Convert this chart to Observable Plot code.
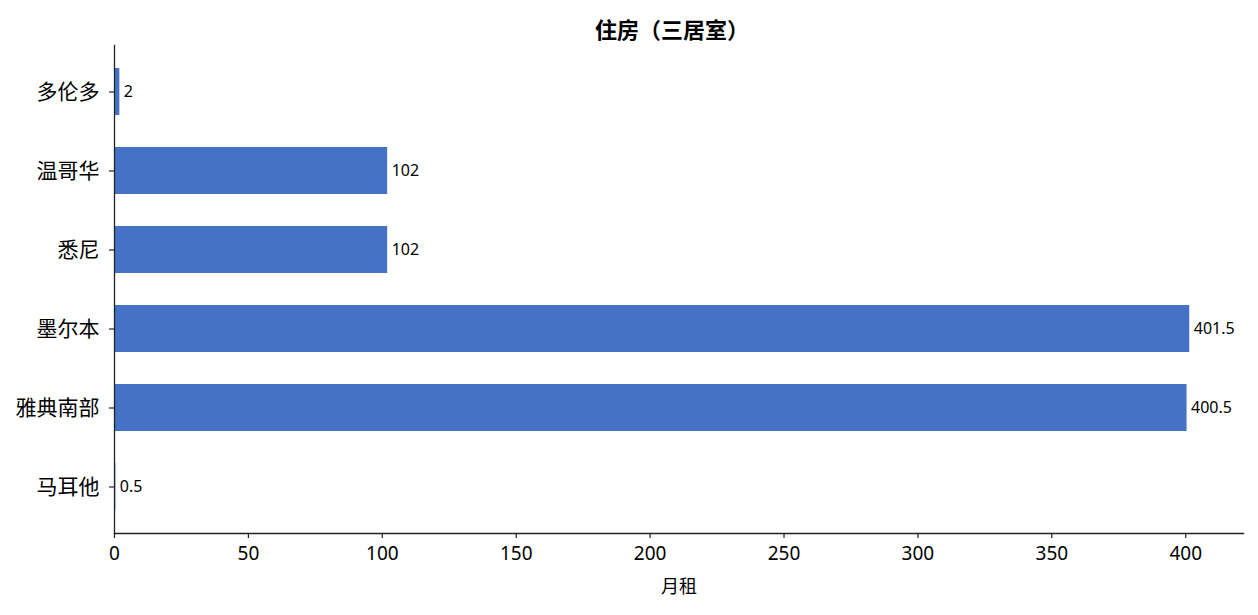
<!DOCTYPE html>
<html>
<head>
<meta charset="utf-8">
<script src="https://cdn.jsdelivr.net/npm/d3@7"></script>
<script src="https://cdn.jsdelivr.net/npm/@observablehq/plot@0.6"></script>
<style>
  body { margin: 0; background: #fff; font-family: "Noto Sans", "Noto Sans CJK SC", sans-serif; }
  #title { position: relative; height: 40px; width: 1258px; }
  #title span { position: absolute; left: 672px; top: 28px; transform: translate(-50%, -50%); font-size: 22px; font-weight: bold; color: #000; white-space: nowrap; font-family: "Noto Sans CJK SC", sans-serif; }
</style>
</head>
<body>
<div id="title"><span>住房（三居室）</span></div>
<div id="chart"></div>
<script>
const cities = ["多伦多", "温哥华", "悉尼", "墨尔本", "雅典南部", "马耳他"];
const rents = [2, 102, 102, 401.5, 400.5, 0.5];
const xTicks = [0, 50, 100, 150, 200, 250, 300, 350, 400];
const xLabel = "月租";

const data = cities.map((c, i) => ({city: c, rent: rents[i]}));
const ff = '"Noto Sans", "Noto Sans CJK SC", sans-serif';

const chart = Plot.plot({
  width: 1258,
  height: 575,
  marginLeft: 114,
  marginRight: 15,
  marginTop: 5,
  marginBottom: 82,
  style: {fontFamily: ff, fontSize: "18px", color: "#000", background: "#fff"},
  x: {domain: [0, 401.5 * 1.05], ticks: xTicks, label: null},
  y: {domain: cities, paddingInner: 0.4, paddingOuter: 0.28, label: null},
  marks: [
    Plot.barX(data, {x: "rent", y: "city", fill: "#4472C4"}),
    Plot.text(data, {x: "rent", y: "city", text: d => String(d.rent), textAnchor: "start", dx: 4, fontSize: 16, fill: "#000"}),
    Plot.axisX({ticks: xTicks, tickSize: 5, tickPadding: 8, fontSize: 19, stroke: "#222", strokeWidth: 1.2, label: null}),
    Plot.axisY({tickSize: 5, tickPadding: 10, fontSize: 21, stroke: "#222", strokeWidth: 1.2, label: null}),
    Plot.frame({anchor: "bottom", stroke: "#222", strokeWidth: 1.3}),
    Plot.frame({anchor: "left", stroke: "#222", strokeWidth: 1.3}),
    Plot.text([xLabel], {frameAnchor: "bottom", text: d => d, dy: 59, fontSize: 18, fill: "#000"})
  ]
});
document.getElementById("chart").appendChild(chart);
</script>
</body>
</html>
